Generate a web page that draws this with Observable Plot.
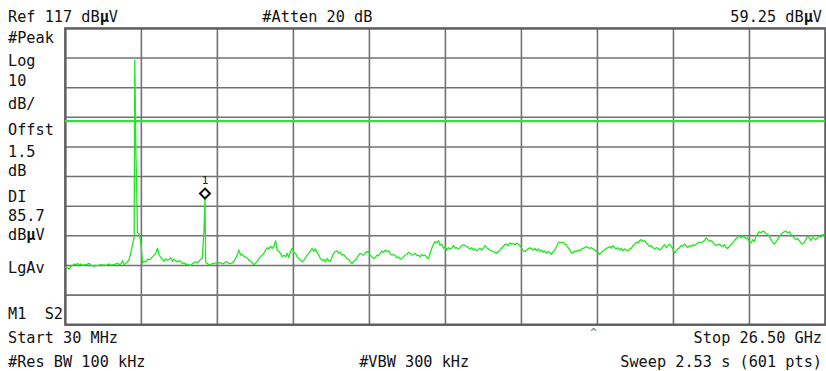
<!DOCTYPE html>
<html><head><meta charset="utf-8">
<script src="https://cdn.jsdelivr.net/npm/d3@7"></script>
<script src="https://cdn.jsdelivr.net/npm/@observablehq/plot@0.6"></script>
<style>
html,body{margin:0;padding:0;background:#fff;}
#chart{position:relative;width:826px;height:371px;overflow:hidden;background:#fff;}
</style></head><body><div id="chart"></div>
<script>
// ---- data ----
const startGHz = 0.03, stopGHz = 26.5;
const refLevel = 117, dbPerDiv = 10, divisions = 10;
const displayLine = 85.7;
const traceStartGHz = 0.053, traceStepGHz = 0.0579;
const traceLevels = [
36.4,36.1,35.8,36.8,37.0,37.5,37.2,37.7,37.2,37.5,
37.0,37.3,37.2,37.5,37.7,37.0,36.9,36.8,37.0,36.9,
37.1,37.3,37.1,37.2,37.0,37.3,37.5,37.1,37.3,37.2,
37.6,37.7,37.3,37.5,38.7,37.2,37.7,38.2,39.1,41.4,
44.0,46.5,76.2,48.0,47.5,45.0,37.9,38.4,38.2,39.1,
38.9,39.3,39.9,40.5,41.1,42.8,40.7,39.6,39.1,38.4,
39.3,38.7,39.1,39.6,38.4,39.1,38.6,38.2,38.6,38.4,
37.6,37.9,37.3,37.5,37.2,37.0,37.6,37.9,38.2,37.9,
38.4,39.1,39.5,49.4,38.0,37.6,37.3,37.2,37.7,37.5,
37.9,37.6,38.0,37.9,37.5,37.7,38.2,38.2,37.7,37.6,
37.9,38.4,39.3,40.5,42.2,40.5,40.7,40.1,39.8,39.6,
38.7,38.4,37.9,
37.2,37.7,38.4,39.3,39.9,40.5,41.1,42.2,43.0,42.6,
43.4,42.8,43.4,45.4,42.2,41.7,41.1,39.9,40.5,39.9,
41.1,39.6,41.7,42.8,41.4,41.1,39.9,39.3,39.1,38.2,
38.7,39.6,40.5,41.1,41.9,42.8,41.7,42.6,41.4,40.5,
39.3,38.7,39.1,38.2,39.3,38.7,38.4,39.9,41.1,41.7,
41.9,41.1,41.4,40.5,40.7,39.9,39.3,39.1,38.2,37.6,
38.4,38.7,39.6,40.5,41.1,40.7,40.5,41.1,41.7,41.4,
40.5,39.9,39.3,39.6,40.5,40.3,41.1,41.9,41.4,42.2,
41.7,41.9,41.1,40.5,40.7,40.3,39.6,39.9,39.1,39.3,
39.9,40.5,40.7,41.4,41.1,40.5,40.7,41.1,40.3,40.5,
39.9,40.7,40.3,40.5,39.6,39.3,41.1,42.8,44.2,45.1,
44.6,45.4,43.7,44.2,
42.8,43.4,42.2,43.0,42.6,42.8,43.7,42.8,43.0,42.6,
43.0,43.7,44.0,43.7,43.4,43.0,42.6,43.0,42.2,42.6,
41.9,42.4,42.8,42.2,42.8,43.7,43.0,42.6,42.2,41.9,
41.7,41.4,41.1,41.7,42.2,42.8,43.4,44.0,44.2,43.7,
44.6,44.2,44.4,44.0,44.6,44.2,43.7,42.8,41.9,41.7,
42.2,42.6,43.0,42.6,42.2,42.8,41.9,42.6,41.7,42.2,
41.4,41.9,41.1,41.7,41.4,40.7,41.7,42.2,43.4,44.6,
44.9,44.6,44.9,44.2,44.0,43.0,42.2,41.1,41.4,41.9,
41.7,42.2,41.9,42.6,42.8,43.0,43.4,43.0,42.8,43.0,
42.6,42.2,41.7,41.4,40.7,41.4,41.9,42.2,42.8,43.0,
43.4,42.8,43.7,43.0,42.6,43.0,42.2,42.8,41.9,42.6,
42.2,41.9,42.6,42.8,
43.7,44.2,44.9,44.6,45.4,45.7,45.1,45.4,44.6,44.0,
43.4,43.7,43.0,42.6,43.0,42.8,42.2,42.6,43.4,44.0,
43.0,43.7,44.2,43.4,42.6,41.1,41.9,42.6,43.0,43.7,
43.4,44.2,43.7,43.0,43.7,43.4,44.0,43.7,44.2,44.6,
44.9,44.6,45.1,45.4,46.3,45.7,45.1,45.4,44.9,44.2,
43.7,44.0,44.2,43.7,43.4,44.0,43.0,42.8,43.4,44.0,
44.6,45.4,46.1,46.5,46.9,46.3,46.9,46.5,46.1,46.3,
44.9,44.6,45.7,45.1,46.9,47.7,48.4,48.0,48.6,48.4,
47.7,47.5,46.9,45.7,44.9,44.2,44.9,45.7,46.9,47.5,
48.0,48.4,48.6,48.0,48.4,47.5,46.9,46.3,45.7,46.1,
45.4,44.6,44.2,44.9,45.7,46.9,46.3,45.4,46.5,46.1,
45.7,46.3,46.9,46.5,47.5,47.2
];
const spikePoints = [[0.03, 36.4], [2.448, 106.3], [4.893, 59.25]];
const markers = [{name: "1", freq: 4.893, level: 59.25}];
const headerLabels = ["Ref 117 dBµV", "#Atten 20 dB", "59.25 dBµV"];
const sideLabels = ["#Peak", "Log", "10", "dB/", "Offst", "1.5", "dB", "DI", "85.7", "dBµV", "LgAv", "M1  S2"];
const footerLabels = ["Start 30 MHz", "#Res BW 100 kHz", "#VBW 300 kHz", "Stop 26.50 GHz", "Sweep 2.53 s (601 pts)"];
const caretLabel = "^";

// ---- build trace ----
const trace = traceLevels.map((v, i) => ({f: traceStartGHz + i * traceStepGHz, db: v}))
  .concat(spikePoints.map(([f, db]) => ({f, db})))
  .sort((a, b) => a.f - b.f);

const botLevel = refLevel - dbPerDiv * divisions;
const xDivs = d3.range(divisions + 1).map(k => startGHz + k * (stopGHz - startGHz) / divisions);
const yDivs = d3.range(divisions + 1).map(k => botLevel + k * dbPerDiv);

const chart = Plot.plot({
  width: 828, height: 371,
  marginLeft: 65, marginRight: 1, marginTop: 28, marginBottom: 46,
  x: {domain: [startGHz, stopGHz], axis: null},
  y: {domain: [botLevel, refLevel], axis: null},
  style: {background: "white"},
  marks: [
    Plot.ruleX(xDivs, {stroke: "#727272", strokeWidth: 1.6}),
    Plot.ruleY(yDivs, {stroke: "#727272", strokeWidth: 1.6}),
    Plot.frame({stroke: "#5e5e5e", strokeWidth: 2.4}),
    Plot.ruleY([displayLine], {stroke: "#3ddc3d", strokeWidth: 2.2}),
    Plot.line(trace, {x: "f", y: "db", stroke: "#22e622", strokeWidth: 1.3}),
    Plot.dot(markers, {x: "freq", y: "level", symbol: "diamond2", r: 4.5, stroke: "#111", strokeWidth: 2, fill: "white", dy: -6}),
    Plot.text(markers, {x: "freq", y: "level", text: "name", dy: -19, fontSize: 11, fontFamily: "DejaVu Sans Mono", fill: "#222"})
  ]
});
chart.style.position = "absolute";
chart.style.left = "0px";
chart.style.top = "0px";
document.getElementById("chart").appendChild(chart);

// ---- annotation text (layout) ----
const layout = {
  header: [[8, 22, "start"], [263, 22, "start"], [824, 22, "end"]],
  side: [[8, 43], [8, 66], [8, 86], [8, 109], [8, 135], [8, 157], [8, 176], [8, 202], [8, 222], [8, 241], [8, 274], [8, 320]],
  footer: [[8, 344, "start"], [8, 368, "start"], [360, 368, "start"], [824, 344, "end"], [824, 368, "end"]]
};
const g = d3.select(chart).append("g")
  .attr("font-family", "DejaVu Sans Mono, monospace")
  .attr("font-size", 16)
  .attr("fill", "#111");
function addText(str, x, y, anchor) {
  const t = g.append("text")
    .attr("transform", `translate(${x},${y}) scale(0.955,1)`)
    .attr("text-anchor", anchor || "start")
    .attr("xml:space", "preserve")
    .style("white-space", "pre");
  str.split(/(µ)/).forEach(part => {
    if (!part) return;
    const ts = t.append("tspan").text(part);
    if (part === "µ") ts.attr("font-weight", "bold");
  });
}
headerLabels.forEach((s, i) => addText(s, ...layout.header[i]));
sideLabels.forEach((s, i) => addText(s, layout.side[i][0], layout.side[i][1], "start"));
footerLabels.forEach((s, i) => addText(s, ...layout.footer[i]));
g.append("text").attr("x", 595).attr("y", 337).attr("text-anchor", "middle")
  .attr("font-size", 11).attr("fill", "#666").text(caretLabel);
</script></body></html>
